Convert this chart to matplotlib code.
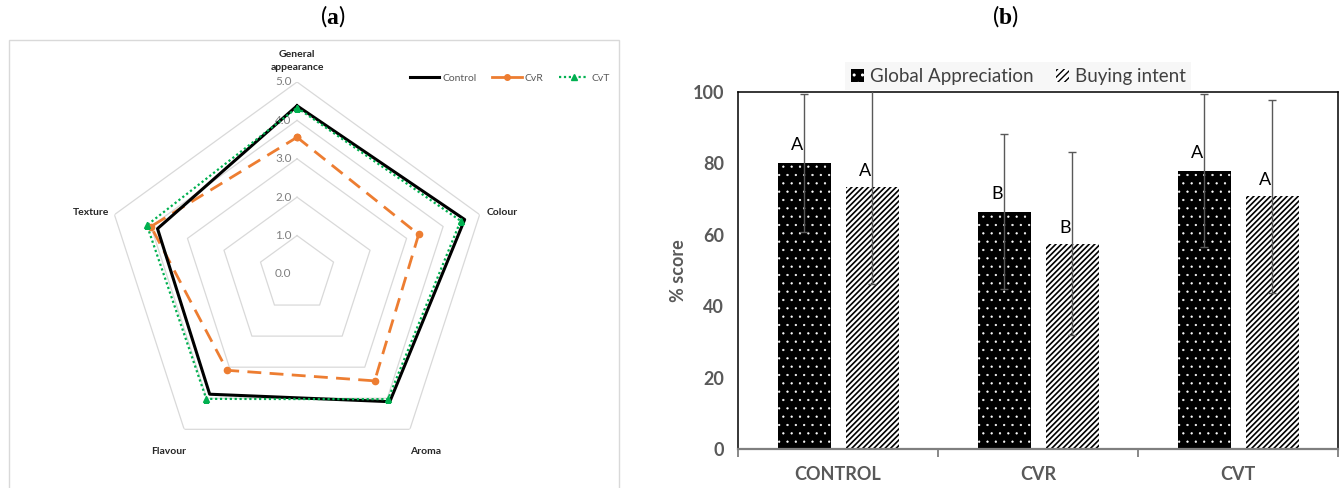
import numpy as np
import matplotlib
matplotlib.use("Agg")
import matplotlib.pyplot as plt
from matplotlib.patches import Rectangle, Patch
from matplotlib.lines import Line2D

plt.rcParams['font.family'] = ['Lato', 'DejaVu Sans']
plt.rcParams['mathtext.fontset'] = 'custom'
plt.rcParams['mathtext.rm'] = 'Liberation Serif'
plt.rcParams['mathtext.bf'] = 'Liberation Serif:bold'

########### radar data (a) ###########
attributes = ['General\nappearance', 'Colour', 'Aroma', 'Flavour', 'Texture']
control = [4.38, 4.59, 4.11, 3.87, 3.82]
cvr = [3.56, 3.33, 3.44, 3.10, 4.00]
cvt = [4.33, 4.48, 4.03, 4.02, 4.11]
radar_ticks = [0, 1, 2, 3, 4, 5]

########### bar data (b) ###########
samples = ['CONTROL', 'CVR', 'CVT']
global_app = [80.1, 66.5, 78.0]
global_app_sd = [19.2, 21.8, 21.4]
buying = [73.4, 57.5, 70.8]
buying_sd = [27.1, 25.7, 27.0]
letters_global = ['A', 'B', 'A']
letters_buying = ['A', 'B', 'A']

grey_txt = '#595959'

fig = plt.figure(figsize=(13.41, 4.88), dpi=100)

# panel frame (a)
fig.patches.append(Rectangle((9 / 1341, -0.01), 610 / 1341, 1 - 40 / 488 + 0.01,
                             transform=fig.transFigure, fill=False,
                             edgecolor='#D9D9D9', lw=1.0))

fig.text(333 / 1341, 1 - 16 / 488, r'($\mathbf{a}$)', ha='center', va='center', fontsize=17)
fig.text(1005 / 1341, 1 - 16 / 488, r'($\mathbf{b}$)', ha='center', va='center', fontsize=17)

##################################
########## Radar ################
##################################
ax1 = fig.add_axes([0.0783, 0.0451, 0.2864, 0.7869], projection='polar')
ax1.set_theta_offset(np.pi / 2)
ax1.set_theta_direction(-1)
ax1.set_ylim(0, 5)
ax1.grid(False)
ax1.spines['polar'].set_visible(False)
ax1.set_xticks([])
ax1.set_yticks([])
ax1.patch.set_alpha(0)

n = len(attributes)
ang = np.linspace(0, 2 * np.pi, n, endpoint=False)
ang_c = np.append(ang, ang[0])

for t in radar_ticks[1:]:
    ax1.plot(ang_c, [t] * (n + 1), color='#D9D9D9', lw=0.9, zorder=1)
for t in radar_ticks:
    ax1.annotate('%.1f' % t, xy=(0, t), xytext=(-4, 0), textcoords='offset points',
                 ha='right', va='center', fontsize=8.5, color='#7F7F7F')

ax1.plot(ang_c, control + control[:1], color='black', lw=2.2, zorder=4)
ax1.plot(ang_c, cvr + cvr[:1], color='#ED7D31', lw=2.0, dashes=(5, 3),
         marker='o', ms=4.5, zorder=3)
ax1.plot(ang_c, cvt + cvt[:1], color='#00B050', lw=1.6, ls=(0, (1, 1.2)),
         marker='^', ms=4, zorder=5)

# category labels
lab_pos = [(5.25, 'center', 'bottom'), (5.2, 'left', 'center'), (5.7, 'center', 'center'),
           (5.7, 'center', 'center'), (5.15, 'right', 'center')]
for a, lab, (r, ha, va) in zip(ang, attributes, lab_pos):
    ax1.text(a, r, lab, ha=ha, va=va, fontsize=7.5, fontweight='bold',
             color='#262626', linespacing=1.6)

h_leg = [Line2D([], [], color='black', lw=2.2),
         Line2D([], [], color='#ED7D31', lw=2.0, marker='o', ms=4),
         Line2D([], [], color='#00B050', lw=1.6, ls=(0, (1, 1.2)), marker='^', ms=4)]
fig.legend(h_leg, ['Control', 'CvR', 'CvT'], loc='center',
           bbox_to_anchor=(510 / 1341, 1 - 78 / 488), ncol=3, frameon=False,
           fontsize=7.5, labelcolor=grey_txt, handlelength=2.8, handletextpad=0.3,
           columnspacing=1.5)

##################################
########## Balken ###############
##################################
ax2 = fig.add_axes([738 / 1341, 39 / 488, 600 / 1341, 357 / 488])
x = np.arange(len(samples))
w = 0.265
off = 0.17

with plt.rc_context({'hatch.linewidth': 0.4}):
    ax2.bar(x - off, global_app, w, facecolor='black', edgecolor='white', lw=0,
            hatch='..', zorder=2)
    h_ga = Patch(facecolor='black', edgecolor='white', lw=0, hatch='..')
with plt.rc_context({'hatch.linewidth': 1.2}):
    ax2.bar(x + off, buying, w, facecolor='white', edgecolor='black', lw=0,
            hatch='//////', zorder=2)
    h_bi = Patch(facecolor='white', edgecolor='black', lw=0, hatch='/////')

ax2.errorbar(x - off, global_app, yerr=global_app_sd, fmt='none', ecolor=grey_txt,
             elinewidth=1.0, capsize=3, capthick=1.0, zorder=3)
ax2.errorbar(x + off, buying, yerr=buying_sd, fmt='none', ecolor=grey_txt,
             elinewidth=1.0, capsize=3, capthick=1.0, zorder=3)
for i in range(len(samples)):
    ax2.text(x[i] - off - 0.035, global_app[i] + 5, letters_global[i], ha='center',
             va='center', fontsize=13, color='black')
    ax2.text(x[i] + off - 0.035, buying[i] + 4.5, letters_buying[i], ha='center',
             va='center', fontsize=13, color='black')

ax2.set_xlim(-0.5, 2.5)
ax2.set_ylim(0, 100)
ax2.set_yticks([0, 20, 40, 60, 80, 100])
ax2.set_xticks(x)
ax2.set_xticklabels(samples, fontsize=13, fontweight='bold', color=grey_txt)
ax2.set_xticks([-0.5, 0.5, 1.5, 2.5], minor=True)
ax2.tick_params(axis='x', which='major', length=0, pad=12)
ax2.tick_params(axis='x', which='minor', length=6, width=1.3, color='#7F7F7F', direction='out')
ax2.tick_params(axis='y', length=0, pad=10)
for lab in ax2.get_yticklabels():
    lab.set_fontsize(13)
    lab.set_fontweight('bold')
    lab.set_color(grey_txt)
for s in ['left', 'top', 'right']:
    ax2.spines[s].set_color('black')
    ax2.spines[s].set_linewidth(1.1)
ax2.spines['bottom'].set_color('#7F7F7F')
ax2.spines['bottom'].set_linewidth(1.6)
ax2.set_ylabel('% score', fontsize=13, fontweight='bold', color=grey_txt, labelpad=4)

leg = ax2.legend([h_ga, h_bi], ['Global Appreciation', 'Buying intent'], loc='upper center',
                 bbox_to_anchor=(0.467, 1.11), ncol=2, fontsize=13.5,
                 labelcolor='#404040', handlelength=0.7, handleheight=0.7,
                 handletextpad=0.3, columnspacing=1.2, fancybox=False,
                 borderpad=0.3, framealpha=1)
leg.get_frame().set_facecolor('#F7F7F7')
leg.get_frame().set_edgecolor('none')

plt.savefig('out.png', dpi=100)
